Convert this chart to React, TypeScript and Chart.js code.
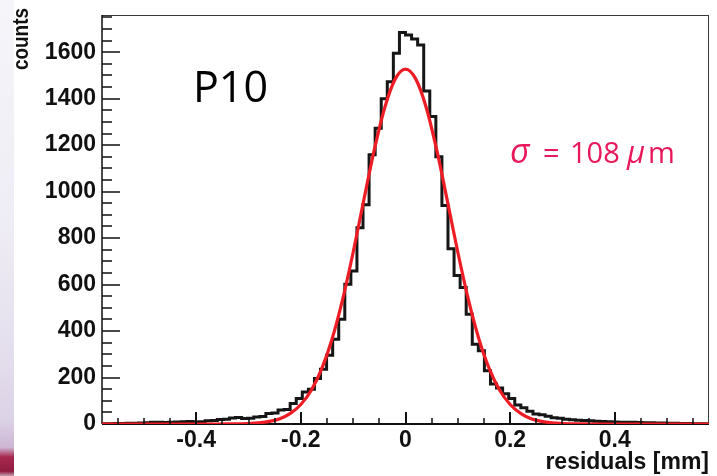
import React, { useEffect, useRef } from "react";
import { Chart, registerables } from "chart.js";

Chart.register(...registerables);

// ---- data ----
const binLow = -0.58;
const binHigh = 0.58;
// 100 bins of residual counts
const counts = [
  1, 1, 2, 2, 3, 3, 4, 5, 7, 8,
  6, 7, 9, 10, 11, 9, 10, 14, 15, 19,
  20, 26, 28, 24, 25, 30, 32, 45, 47, 60,
  62, 88, 110, 138, 150, 196, 236, 296, 365, 451,
  601, 658, 844, 944, 1159, 1273, 1400, 1473, 1595, 1685,
  1674, 1657, 1631, 1433, 1323, 1150, 940, 754, 639, 587,
  472, 343, 315, 229, 172, 155, 130, 110, 82, 70,
  55, 43, 40, 33, 27, 25, 20, 18, 16, 15,
  14, 12, 11, 10, 9, 8, 7, 7, 6, 5,
  5, 4, 4, 3, 3, 2, 2, 1, 1, 1,
];
// Gaussian fit curve
const fitX = [
  -0.58, -0.36, -0.34, -0.32, -0.30, -0.28, -0.26, -0.24, -0.22, -0.20,
  -0.18, -0.16, -0.14, -0.12, -0.10, -0.08, -0.06, -0.04, -0.02, 0,
  0.02, 0.04, 0.06, 0.08, 0.10, 0.12, 0.14, 0.16, 0.18, 0.20,
  0.22, 0.24, 0.26, 0.28, 0.30, 0.32, 0.34, 0.36, 0.58,
];
const fitY = [
  0, 0.1, 0.3, 0.9, 2, 5, 11, 23, 46, 84,
  145, 238, 368, 537, 739, 960, 1176, 1359, 1483, 1527,
  1483, 1359, 1176, 960, 739, 537, 368, 238, 145, 84,
  46, 23, 11, 5, 2, 0.9, 0.3, 0.1, 0,
];
const xTickValues = [-0.4, -0.2, 0, 0.2, 0.4];
const yTickValues = [0, 200, 400, 600, 800, 1000, 1200, 1400, 1600];
const xMinorTicks = [
  -0.55, -0.5, -0.45, -0.35, -0.3, -0.25, -0.15, -0.1, -0.05,
  0.05, 0.1, 0.15, 0.25, 0.3, 0.35, 0.45, 0.5, 0.55,
];
const yMinorTicks = [
  50, 100, 150, 250, 300, 350, 450, 500, 550, 650, 700, 750, 850, 900, 950,
  1050, 1100, 1150, 1250, 1300, 1350, 1450, 1500, 1550, 1650, 1700, 1750,
];
const yMax = 1760;

const xTitle = "residuals [mm]";
const yTitle = "counts";
const gasLabel = "P10";

const LABEL_FONT = "'Liberation Sans', Arial, Helvetica, sans-serif";
const TICK_COLOR = "#111111";

function drawTicks(chart: any) {
  const ctx = chart.ctx as CanvasRenderingContext2D;
  const a = chart.chartArea;
  const xs = chart.scales.x;
  const ys = chart.scales.y;
  ctx.save();
  ctx.fillStyle = TICK_COLOR;
  const bottom = Math.round(a.bottom);
  const left = Math.round(a.left);
  for (const v of xTickValues) {
    const px = Math.round(xs.getPixelForValue(v));
    ctx.fillRect(px - 1, bottom - 12, 2, 12);
  }
  for (const v of xMinorTicks) {
    const px = Math.round(xs.getPixelForValue(v));
    ctx.fillRect(px - 0.75, bottom - 6, 1.5, 6);
  }
  for (const v of yTickValues) {
    if (v === 0) continue;
    const py = Math.round(ys.getPixelForValue(v));
    ctx.fillRect(left, py - 0.75, 18, 1.5);
  }
  for (const v of yMinorTicks) {
    const py = Math.round(ys.getPixelForValue(v));
    ctx.fillRect(left, py - 0.75, 10, 1.5);
  }
  ctx.restore();
}

const rootPlugin = {
  id: "rootStyle",
  beforeDatasetsDraw(chart: any) {
    const ctx = chart.ctx;
    const a = chart.chartArea;
    ctx.save();
    ctx.fillStyle = "#3a3a3a";
    ctx.fillRect(a.left, a.top, a.right - a.left, 1);
    ctx.fillRect(a.right - 1, a.top, 1, a.bottom - a.top);
    ctx.fillStyle = "#111";
    ctx.fillRect(a.left - 0.75, a.top, 1.5, a.bottom - a.top);
    ctx.fillRect(a.left, a.bottom - 1, a.right - a.left, 2);
    ctx.restore();
  },
  afterDraw(chart: any) {
    const ctx = chart.ctx;
    drawTicks(chart);
    ctx.save();
    // y axis title
    ctx.translate(28, 8);
    ctx.rotate(-Math.PI / 2);
    ctx.scale(0.86, 1);
    ctx.font = `bold 22px ${LABEL_FONT}`;
    ctx.fillStyle = "#111";
    ctx.textAlign = "right";
    ctx.textBaseline = "alphabetic";
    ctx.fillText(yTitle, 0, 0);
    ctx.restore();

    ctx.save();
    ctx.fillStyle = "#000";
    ctx.font = "43px 'Open Sans', 'Noto Sans', sans-serif";
    ctx.textBaseline = "alphabetic";
    ctx.textAlign = "left";
    ctx.fillText(gasLabel, 193, 102);

    // sigma annotation
    ctx.fillStyle = "#e8185a";
    const base = 163;
    const nm = "29px 'Open Sans', 'Noto Sans', sans-serif";
    ctx.font = "italic 34px 'Open Sans', 'Noto Sans', sans-serif";
    ctx.fillText("\u03C3", 510, base);
    ctx.font = nm;
    ctx.fillText("=", 543, base);
    ctx.fillText("108", 570, base);
    ctx.font = "italic 31px 'Open Sans', 'Noto Sans', sans-serif";
    ctx.fillText("\u03BC", 627, base);
    ctx.font = nm;
    ctx.fillText("m", 648, base);
    ctx.restore();
  },
};

export default function App() {
  const ref = useRef<HTMLCanvasElement>(null);

  useEffect(() => {
    const canvas = ref.current!;
    const binWidth = (binHigh - binLow) / counts.length;
    const histPoints = counts.map((c, k) => ({ x: binLow + k * binWidth, y: c }));
    histPoints.push({ x: binHigh, y: counts[counts.length - 1] });
    const fitPoints = fitX.map((x, i) => ({ x, y: fitY[i] }));

    const chart = new Chart(canvas, {
      type: "line",
      data: {
        datasets: [
          {
            label: "fit",
            data: fitPoints,
            borderColor: "#ee1d25",
            borderWidth: 3.2,
            pointRadius: 0,
            fill: false,
            cubicInterpolationMode: "monotone",
            order: 1,
          },
          {
            label: "residuals",
            data: histPoints,
            borderColor: "#161616",
            borderWidth: 3,
            pointRadius: 0,
            fill: false,
            stepped: true,
            order: 2,
          },
        ],
      },
      options: {
        animation: false,
        responsive: false,
        devicePixelRatio: 1,
        layout: { padding: { top: 15, right: 8, left: 0, bottom: 0 } },
        plugins: {
          legend: { display: false },
          tooltip: { enabled: false },
        },
        scales: {
          x: {
            type: "linear",
            min: binLow,
            max: binHigh,
            grid: { display: false, drawTicks: false },
            border: { display: false },
            afterBuildTicks: (scale: any) => {
              scale.ticks = xTickValues.map((v) => ({ value: v }));
            },
            afterFit: (scale: any) => {
              scale.height = 52;
              scale.paddingLeft = 0;
              scale.paddingRight = 0;
            },
            ticks: {
              autoSkip: false,
              maxRotation: 0,
              padding: 3,
              color: "#111",
              callback: (v: any) => String(v),
              font: { family: LABEL_FONT, size: 23, weight: "bold" },
            },
            title: {
              display: true,
              text: xTitle,
              align: "end",
              color: "#111",
              padding: { top: 0, bottom: 0 },
              font: { family: LABEL_FONT, size: 23, weight: "bold" },
            },
          },
          y: {
            type: "linear",
            min: 0,
            max: yMax,
            grid: { display: false, drawTicks: false },
            border: { display: false },
            afterBuildTicks: (scale: any) => {
              scale.ticks = yTickValues.map((v) => ({ value: v }));
            },
            afterFit: (scale: any) => {
              scale.width = 102;
              scale.paddingTop = 0;
              scale.paddingBottom = 0;
            },
            ticks: {
              padding: 6,
              color: "#111",
              callback: (v: any) => String(v),
              font: { family: LABEL_FONT, size: 23, weight: "bold" },
            },
          },
        },
      },
      plugins: [rootPlugin],
    } as any);

    return () => chart.destroy();
  }, []);

  return (
    <div
      style={{
        position: "absolute",
        left: 0,
        top: 0,
        width: 717,
        height: 476,
        background: "#ffffff",
        overflow: "hidden",
      }}
    >
      <div
        style={{
          position: "absolute",
          left: 0,
          top: 0,
          width: 14,
          height: 476,
          background:
            "linear-gradient(to bottom, #f6f5fa 0%, #efedf5 45%, #e6e1ee 70%, #dcd3e6 88%, #cdb6d3 94%, #a8284f 96%, #8f1c40 99%, #c9a0b0 100%)",
        }}
      />
      <canvas
        ref={ref}
        width={717}
        height={476}
        style={{ position: "absolute", left: 0, top: 0, width: 717, height: 476 }}
      />
    </div>
  );
}
